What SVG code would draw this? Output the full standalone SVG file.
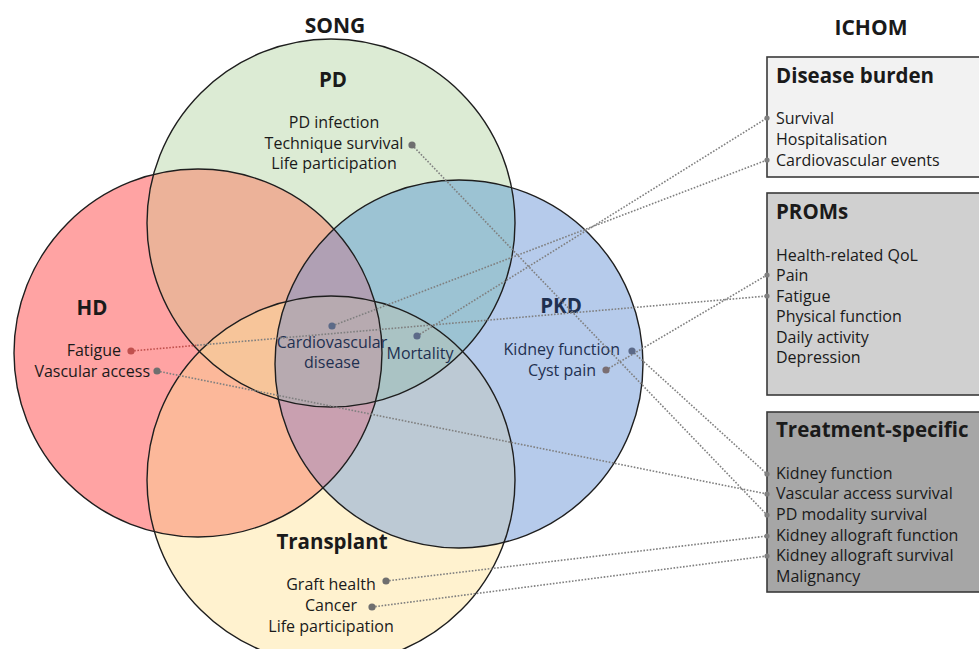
<svg xmlns="http://www.w3.org/2000/svg" xmlns:xlink="http://www.w3.org/1999/xlink" width="979" height="649" viewBox="0 0 979 649">
<style>
.t{font-family:'Open Sans','Noto Sans','Liberation Sans',sans-serif;font-size:16px;fill:#1a1a1a}
.n{fill:#1f3050}
.b{font-weight:bold;font-size:20.5px}
.hd{font-weight:bold;font-size:21px}
.m{text-anchor:middle}
.e{text-anchor:end}
.outline{fill:none;stroke:#1e1e1e;stroke-width:1.4}
.box{stroke:#3a3a3a;stroke-width:1.6}
.dl{fill:none;stroke:#7f7f7f;stroke-width:1.6;stroke-dasharray:1.6 1.6}
.dot{fill:#6f6f6f}
.end{fill:#7f7f7f}
</style>
<defs>
<circle id="cPD" cx="331" cy="223" r="184"/>
<circle id="cHD" cx="198" cy="353" r="184"/>
<circle id="cPKD" cx="459" cy="364" r="184"/>
<circle id="cT" cx="331" cy="480" r="184"/>
<clipPath id="kPD"><use xlink:href="#cPD"/></clipPath>
<clipPath id="kHD"><use xlink:href="#cHD"/></clipPath>
<clipPath id="kPKD"><use xlink:href="#cPKD"/></clipPath>
<clipPath id="kT"><use xlink:href="#cT"/></clipPath>
</defs>
<rect width="979" height="649" fill="#ffffff"/>

<g id="venn-fills">
<use xlink:href="#cPD" fill="#dcebd4"/>
<use xlink:href="#cHD" fill="#ffa3a3"/>
<use xlink:href="#cPKD" fill="#b6cbeb"/>
<use xlink:href="#cT" fill="#fff2cf"/>
<use xlink:href="#cHD" clip-path="url(#kPD)" fill="#ecb299"/>
<use xlink:href="#cPKD" clip-path="url(#kPD)" fill="#9cc3d3"/>
<use xlink:href="#cT" clip-path="url(#kHD)" fill="#fcb89a"/>
<use xlink:href="#cT" clip-path="url(#kPKD)" fill="#bcc9d4"/>
<g clip-path="url(#kPD)"><use xlink:href="#cHD" clip-path="url(#kPKD)" fill="#b0a0b4"/></g>
<g clip-path="url(#kPD)"><use xlink:href="#cHD" clip-path="url(#kT)" fill="#f7c59a"/></g>
<g clip-path="url(#kPD)"><use xlink:href="#cPKD" clip-path="url(#kT)" fill="#aac3c4"/></g>
<g clip-path="url(#kHD)"><use xlink:href="#cPKD" clip-path="url(#kT)" fill="#c9a0b0"/></g>
<g clip-path="url(#kPD)"><g clip-path="url(#kHD)"><use xlink:href="#cPKD" clip-path="url(#kT)" fill="#b7aab0"/></g></g>
</g>

<g id="PD"><use xlink:href="#cPD" class="outline"/>
<text class="t b m" x="333" y="87">PD</text>
<text class="t m" x="334" y="128">PD infection</text>
<text class="t m" x="334" y="149">Technique survival</text>
<text class="t m" x="334" y="169">Life participation</text>
</g>
<g id="HD"><use xlink:href="#cHD" class="outline"/>
<text class="t b m" x="92" y="315">HD</text>
<text class="t e" x="121" y="356">Fatigue</text>
<text class="t e" x="150" y="376.5">Vascular access</text>
</g>
<g id="PKD"><use xlink:href="#cPKD" class="outline"/>
<text class="t b m n" x="561" y="313">PKD</text>
<text class="t e n" x="620" y="355">Kidney function</text>
<text class="t e n" x="596" y="375.5">Cyst pain</text>
</g>
<g id="Transplant"><use xlink:href="#cT" class="outline"/>
<text class="t b m" x="332" y="549">Transplant</text>
<text class="t m" x="331" y="590">Graft health</text>
<text class="t m" x="331" y="611">Cancer</text>
<text class="t m" x="331" y="632">Life participation</text>
</g>
<g id="shared">
<text class="t m n" x="332" y="347.5">Cardiovascular</text>
<text class="t m n" x="332" y="368">disease</text>
<text class="t m n" x="420" y="359">Mortality</text>
</g>

<g id="headers">
<text class="t hd m" x="335" y="33">SONG</text>
<text class="t hd m" x="871" y="35">ICHOM</text>
</g>

<g id="disease-burden">
<rect class="box" x="767" y="57" width="220" height="120" fill="#f2f2f2"/>
<text class="t b" x="776" y="83">Disease burden</text>
<text class="t" x="776" y="124">Survival</text>
<text class="t" x="776" y="145">Hospitalisation</text>
<text class="t" x="776" y="166">Cardiovascular events</text>
</g>
<g id="proms">
<rect class="box" x="767" y="193" width="220" height="202" fill="#d0d0d0"/>
<text class="t b" x="776" y="219">PROMs</text>
<text class="t" x="776" y="261">Health-related QoL</text>
<text class="t" x="776" y="281">Pain</text>
<text class="t" x="776" y="302">Fatigue</text>
<text class="t" x="776" y="322">Physical function</text>
<text class="t" x="776" y="343">Daily activity</text>
<text class="t" x="776" y="363">Depression</text>
</g>
<g id="treatment-specific">
<rect class="box" x="767" y="412" width="220" height="180" fill="#a6a6a6"/>
<text class="t b" x="776" y="437">Treatment-specific</text>
<text class="t" x="776" y="479">Kidney function</text>
<text class="t" x="776" y="499">Vascular access survival</text>
<text class="t" x="776" y="520">PD modality survival</text>
<text class="t" x="776" y="541">Kidney allograft function</text>
<text class="t" x="776" y="561">Kidney allograft survival</text>
<text class="t" x="776" y="582">Malignancy</text>
</g>

<g id="connectors">
<line class="dl" x1="412" y1="145" x2="767" y2="515"/>
<line class="dl" x1="632" y1="351" x2="767" y2="474"/>
<line class="dl" x1="606" y1="370" x2="767" y2="275"/>
<line class="dl" x1="197" y1="345.3" x2="767" y2="296"/>
<line class="dl" x1="131" y1="351" x2="197" y2="345.3" style="stroke:#c0504d"/>
<line class="dl" x1="157" y1="371" x2="767" y2="494"/>
<line class="dl" x1="332" y1="326" x2="767" y2="160"/>
<line class="dl" x1="417" y1="336" x2="767" y2="118"/>
<line class="dl" x1="386" y1="581" x2="767" y2="536"/>
<line class="dl" x1="372" y1="607" x2="767" y2="556"/>
<circle class="dot" cx="412" cy="145" r="3.6"/>
<circle class="dot" cx="632" cy="351" r="3.6" style="fill:#5c6a88"/>
<circle class="dot" cx="606" cy="370" r="3.6" style="fill:#7a6e72"/>
<circle class="dot" cx="131" cy="351" r="3.6" style="fill:#c0504d"/>
<circle class="dot" cx="157" cy="371" r="3.6"/>
<circle class="dot" cx="332" cy="326" r="3.6" style="fill:#5c6a88"/>
<circle class="dot" cx="417" cy="336" r="3.6" style="fill:#5c6a88"/>
<circle class="dot" cx="386" cy="581" r="3.6"/>
<circle class="dot" cx="372" cy="607" r="3.6"/>
<circle class="end" cx="767" cy="118" r="2.6"/>
<circle class="end" cx="767" cy="160" r="2.6"/>
<circle class="end" cx="767" cy="275" r="2.6"/>
<circle class="end" cx="767" cy="296" r="2.6"/>
<circle class="end" cx="767" cy="474" r="2.6"/>
<circle class="end" cx="767" cy="494" r="2.6"/>
<circle class="end" cx="767" cy="515" r="2.6"/>
<circle class="end" cx="767" cy="536" r="2.6"/>
<circle class="end" cx="767" cy="556" r="2.6"/>
</g>
</svg>
